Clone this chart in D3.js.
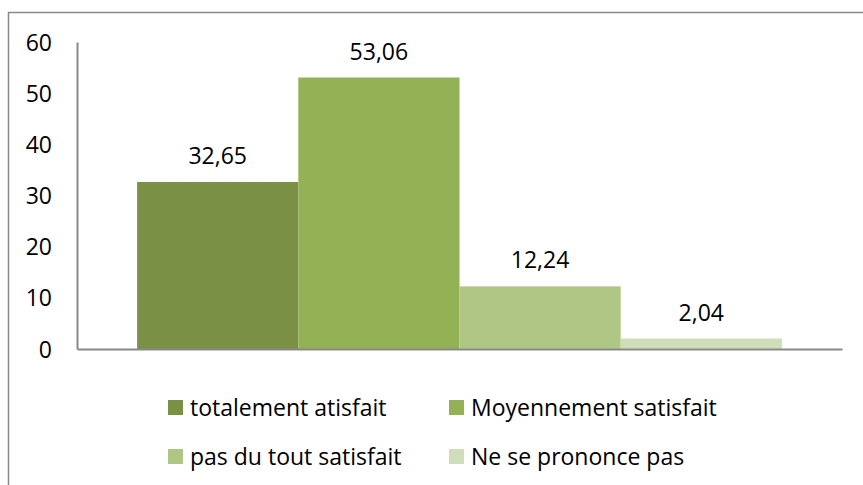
<!DOCTYPE html>
<html>
  <head>
    <meta charset="utf-8">
    <title>Satisfaction</title>
<style>
  body { margin: 0; background: #fff; }
  svg text { font-family: "Open Sans", sans-serif; fill: #000; }
</style>
  </head>
  <body>
    <div id="viz"></div>
  <script src="https://cdn.jsdelivr.net/npm/d3@7/dist/d3.min.js"></script>
  <script>
    // data
    var series = ["totalement atisfait", "Moyennement satisfait", "pas du tout satisfait", "Ne se prononce pas"];
    var values = [32.65, 53.06, 12.24, 2.04];
    var valueLabels = ["32,65", "53,06", "12,24", "2,04"];
    var yTicks = [0, 10, 20, 30, 40, 50, 60];
    var colors = ["#7A9145", "#93B155", "#AFC685", "#CFDDB9"];

    (function() {
      var width = 863, height = 485;
      var svg = d3.select("#viz").append("svg")
          .attr("width", width)
          .attr("height", height);

      // chart border
      svg.append("rect")
          .attr("x", 8.5).attr("y", 12.5)
          .attr("width", 900).attr("height", 600)
          .attr("fill", "none")
          .attr("stroke", "#898989")
          .attr("stroke-width", 1.5);

      var x = d3.scaleBand()
          .domain(series)
          .range([77, 842])
          .paddingInner(0)
          .paddingOuter(0.373);

      var y = d3.scaleLinear()
          .domain([0, 60])
          .range([349, 42]);

      svg.selectAll(".bar")
          .data(values)
        .enter().append("rect")
          .attr("class", "bar")
          .attr("x", function(d, i) { return x(series[i]); })
          .attr("width", x.bandwidth())
          .attr("y", function(d) { return y(d); })
          .attr("height", function(d) { return y(0) - y(d); })
          .attr("fill", function(d, i) { return colors[i]; });

      svg.selectAll(".val")
          .data(values)
        .enter().append("text")
          .attr("class", "val")
          .attr("x", function(d, i) { return x(series[i]) + x.bandwidth() / 2; })
          .attr("y", function(d) { return y(d) - 18; })
          .attr("text-anchor", "middle")
          .style("font-size", "23px")
          .text(function(d, i) { return valueLabels[i]; });

      // y axis
      var yAxis = svg.append("g")
          .attr("transform", "translate(77,0)")
          .call(d3.axisLeft(y).tickValues(yTicks).tickSize(0).tickPadding(25));
      yAxis.select(".domain").attr("stroke", "#898989").attr("stroke-width", 2);
      yAxis.selectAll("text")
          .style("font-size", "23px")
          .style("font-family", "'Open Sans', sans-serif")
          .attr("dy", "0.35em");

      // x axis line
      var xAxis = svg.append("g")
          .attr("transform", "translate(0," + y(0) + ")")
          .call(d3.axisBottom(d3.scaleLinear().range([77, 842])).ticks(0).tickSize(0));
      xAxis.select(".domain").attr("stroke", "#898989").attr("stroke-width", 2);
      xAxis.selectAll("text").remove();

      // legend
      var legendPos = [[168, 400], [449, 400], [168, 449], [449, 449]];
      var legend = svg.selectAll(".legend")
          .data(series)
        .enter().append("g")
          .attr("class", "legend")
          .attr("transform", function(d, i) { return "translate(" + legendPos[i][0] + "," + legendPos[i][1] + ")"; });

      legend.append("rect")
          .attr("width", 15)
          .attr("height", 15)
          .attr("fill", function(d, i) { return colors[i]; });

      legend.append("text")
          .attr("x", 22)
          .attr("y", 7.5)
          .attr("dy", "0.35em")
          .style("font-size", "23px")
          .text(function(d) { return d; });
    })();
  </script>
  </body>
</html>
